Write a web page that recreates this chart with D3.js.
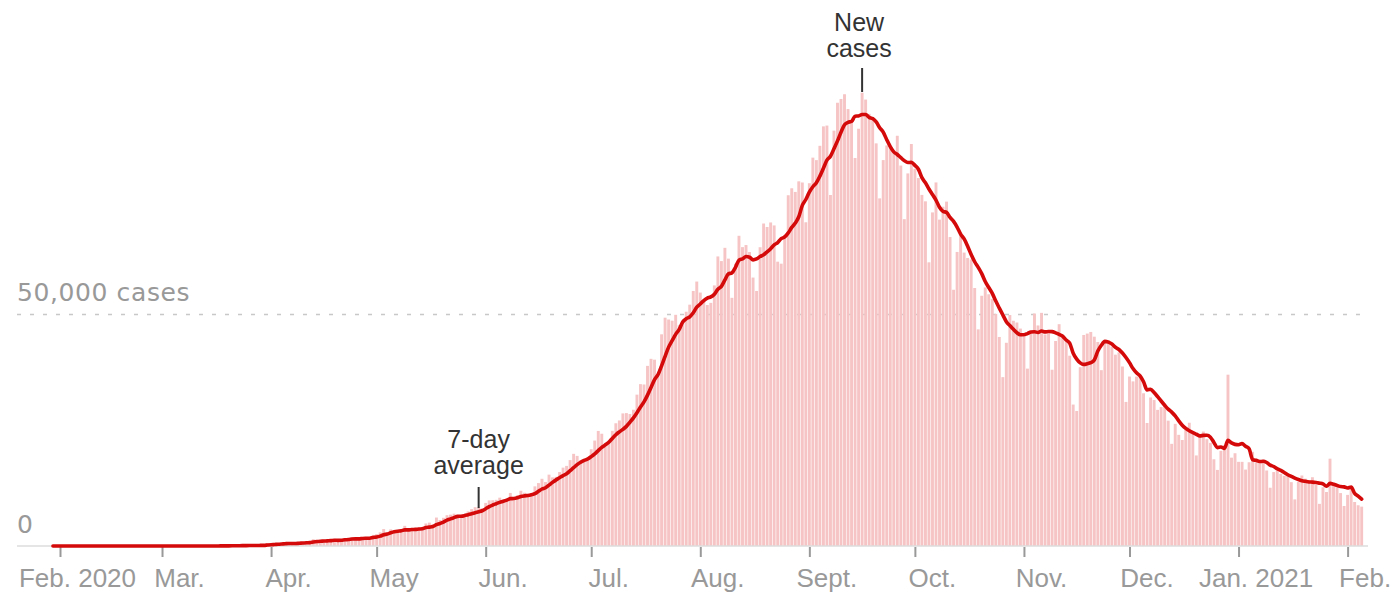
<!DOCTYPE html>
<html>
<head>
<meta charset="utf-8">
<script src="https://cdn.jsdelivr.net/npm/d3@7"></script>
<style>
  html, body { margin: 0; padding: 0; background: #fff; }
  svg { display: block; }
</style>
</head>
<body>
<svg id="chart" width="1396" height="593"></svg>
<script>
// ---- Data: daily new cases, one value per day starting 2020-01-30 ----
const startDate = "2020-01-30";
const jan2020 = [1, 0];
const feb2020 = [0, 1, 1, 0, 0, 0, 0, 0, 0, 0, 0, 0, 0, 0, 0, 0, 0, 0, 0, 0, 0, 0, 0, 0, 0, 0, 0, 0, 0];
const mar2020 = [2, 1, 22, 2, 1, 3, 5, 9, 15, 8, 10, 10, 21, 12, 17, 15, 27, 33, 64, 75, 90, 106, 76, 101, 88, 149, 157, 106, 227, 146, 601];
const apr2020 = [545, 478, 515, 506, 704, 508, 485, 591, 896, 768, 918, 905, 1463, 1248, 1034, 1108, 1075, 1266, 1540, 1284, 1486, 1667, 1408, 1835, 1607, 1561, 1873, 1738, 1801, 2394];
const may2020 = [2564, 2952, 3656, 2971, 3587, 3364, 3344, 3113, 4353, 3607, 3524, 3763, 3942, 3787, 4864, 5050, 4630, 6147, 5611, 6088, 6654, 6767, 6977, 6535, 6387, 6566, 7466, 7964, 8380, 8392, 8171];
const jun2020 = [9304, 9851, 9887, 9971, 10438, 9983, 9987, 11458, 9996, 10956, 11929, 11502, 10667, 11090, 12881, 13586, 14516, 13832, 15413, 14821, 14933, 15968, 16922, 17296, 18552, 19906, 19459, 18522, 18653, 19148];
const jul2020 = [20903, 22771, 24850, 24248, 22252, 22752, 24879, 26506, 27114, 28637, 28701, 28498, 29429, 32695, 34956, 34884, 38902, 40425, 40243, 37148, 45720, 49310, 48916, 48661, 49931, 47704, 48513, 50600, 52123, 55079, 57118];
const aug2020 = [54735, 52972, 52050, 52509, 56282, 62538, 61537, 64399, 62064, 53601, 60963, 66999, 64553, 65002, 63490, 57981, 55079, 64531, 69652, 68898, 69878, 69239, 61408, 60975, 67151, 75760, 77266, 76472, 78761, 78512, 69921];
const sep2020 = [78357, 83883, 83341, 86432, 90632, 90802, 75809, 89706, 95735, 96551, 97570, 94372, 92071, 83809, 90123, 97894, 96424, 93337, 92605, 86961, 75083, 83347, 86508, 86052, 85362, 88600, 82170, 70589, 80472, 86821];
const oct2020 = [81484, 79476, 75829, 74442, 61267, 72049, 78524, 70496, 73272, 74383, 66732, 55342, 63509, 67708, 63371, 62212, 61871, 55722, 46790, 54044, 55839, 54366, 53370, 50129, 45149, 36470, 43893, 49881, 48648, 48268, 46963];
const nov2020 = [45231, 38310, 46253, 50210, 47638, 50357, 45674, 45903, 38073, 44281, 47905, 44879, 44684, 41100, 30548, 29163, 38617, 45576, 45882, 46232, 45209, 44059, 37975, 44376, 44489, 43082, 41322, 41810, 38772, 31118];
const dec2020 = [36604, 35551, 36595, 36652, 32981, 26567, 32080, 31522, 29398, 30006, 30254, 27071, 22065, 26382, 24010, 22890, 25153, 26624, 24337, 19556, 23950, 24712, 23067, 22272, 18732, 16432, 20549, 21822, 37000, 19079, 20035];
const jan2021 = [18177, 18177, 16505, 18088, 20346, 18139, 18222, 18645, 16311, 12584, 15968, 16946, 15590, 15158, 15144, 13788, 10064, 13823, 15223, 14545, 14256, 14849, 13203, 9102, 12689, 11666, 18855, 13083, 13052, 11427, 8635];
const feb2021 = [11039, 12899, 9500, 8800, 8500];

// ---- Axis labels ----
const tickDateStrings = ["2020-02-01", "2020-03-01", "2020-04-01", "2020-05-01", "2020-06-01", "2020-07-01", "2020-08-01", "2020-09-01", "2020-10-01", "2020-11-01", "2020-12-01", "2021-01-01", "2021-02-01"];
const tickLabels = ["Feb. 2020", "Mar.", "Apr.", "May", "Jun.", "Jul.", "Aug.", "Sept.", "Oct.", "Nov.", "Dec.", "Jan. 2021", "Feb."];
const yTickValues = [0, 50000];
const yTickLabels = ["0", "50,000 cases"];

// ---- Build ----
const parse = d3.utcParse("%Y-%m-%d");
const daily = [].concat(jan2020, feb2020, mar2020, apr2020, may2020, jun2020, jul2020, aug2020, sep2020, oct2020, nov2020, dec2020, jan2021, feb2021);
const start = parse(startDate);
const data = daily.map((v, i) => ({ date: d3.utcDay.offset(start, i), value: v }));
data.forEach((d, i) => {
  const win = daily.slice(Math.max(0, i - 6), i + 1);
  d.avg = d3.mean(win);
});
const tickDates = tickDateStrings.map(parse);

const svg = d3.select("#chart");
const x = d3.scaleUtc().domain([tickDates[0], tickDates[tickDates.length - 1]]).range([60, 1347.6]);
const y = d3.scaleLinear().domain([0, 50000]).range([546, 314.5]);

const left = 17, right = 1368;

// gridline (dashed) at 50,000
svg.append("line")
  .attr("x1", left).attr("x2", right)
  .attr("y1", y(50000)).attr("y2", y(50000))
  .attr("stroke", "#c8c8c8").attr("stroke-width", 1.5)
  .attr("stroke-dasharray", "4,9");

// y labels
svg.selectAll("text.ylab").data(yTickValues).join("text")
  .attr("class", "ylab")
  .attr("x", left)
  .attr("y", d => y(d) - (d === 0 ? 13 : 13.5))
  .attr("font-family", "'DejaVu Sans', sans-serif")
  .attr("font-size", 25)
  .attr("letter-spacing", 0.6)
  .attr("fill", "#999")
  .text((d, i) => yTickLabels[i]);

// bars
const bw = 2.9;
svg.append("g").selectAll("rect").data(data).join("rect")
  .attr("x", d => x(d.date) - bw / 2)
  .attr("width", bw)
  .attr("y", d => y(d.value))
  .attr("height", d => y(0) - y(d.value))
  .attr("fill", "#f6c4c4");

// baseline
svg.append("line")
  .attr("x1", left).attr("x2", right)
  .attr("y1", y(0)).attr("y2", y(0))
  .attr("stroke", "#dddddd").attr("stroke-width", 1.5);

// x axis
const xAxis = d3.axisBottom(x)
  .tickValues(tickDates)
  .tickFormat((d, i) => tickLabels[i])
  .tickSize(10);
const gx = svg.append("g").attr("transform", `translate(0,${y(0) + 1})`).call(xAxis);
gx.select(".domain").remove();
gx.selectAll(".tick line").attr("stroke", "#999").attr("stroke-width", 2);
gx.selectAll(".tick text")
  .attr("y", 40).attr("dy", 0).attr("dx", 17)
  .attr("fill", "#999")
  .attr("font-family", "'Liberation Sans', Arial, sans-serif")
  .attr("font-size", 26);

// 7-day average line
const line = d3.line()
  .x(d => x(d.date))
  .y(d => y(d.avg))
  .curve(d3.curveMonotoneX);
svg.append("path")
  .datum(data)
  .attr("d", line)
  .attr("fill", "none")
  .attr("stroke", "#d40a0a")
  .attr("stroke-width", 3.6)
  .attr("stroke-linejoin", "round")
  .attr("stroke-linecap", "round");

// annotations
function annotate(dateStr, lines, baseY, tickTop, tickBottom, dxText) {
  const cx = x(parse(dateStr));
  const t = svg.append("text")
    .attr("text-anchor", "middle")
    .attr("font-family", "'Liberation Sans', Arial, sans-serif")
    .attr("font-size", 25)
    .attr("fill", "#333");
  lines.forEach((s, i) => {
    t.append("tspan").attr("x", cx + dxText).attr("y", baseY + i * 26).text(s);
  });
  svg.append("line")
    .attr("x1", cx).attr("x2", cx)
    .attr("y1", tickTop).attr("y2", tickBottom)
    .attr("stroke", "#333").attr("stroke-width", 2);
}
annotate("2020-09-16", ["New", "cases"], 31, 68, 92, -3);
annotate("2020-05-30", ["7-day", "average"], 448, 487, 508, 0);
</script>
</body>
</html>
